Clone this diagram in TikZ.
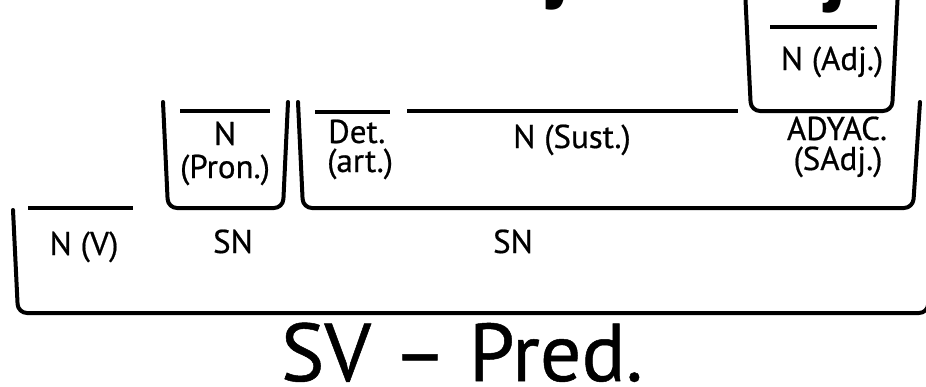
\documentclass[tikz,border=0pt]{standalone}
\usepackage{fontspec}
\setmainfont{PT Sans}
\newfontfamily\lblfont{PT Sans}[FakeBold=0.6]
\newfontfamily\glyphfont{PT Sans Bold}
\tikzset{
  brk/.style={line width=4pt, rounded corners=9pt, line cap=round, line join=round},
  ovl/.style={line width=4pt},
  lbl/.style={font=\lblfont\fontsize{33}{36}\selectfont, inner sep=0pt, anchor=base},
  big/.style={font=\lblfont\fontsize{82}{90}\selectfont, inner sep=0pt, anchor=base},
  cut/.style={font=\glyphfont\fontsize{85}{95}\selectfont, inner sep=0pt, anchor=base east},
}
\begin{document}
\begin{tikzpicture}[x=1pt,y=-1pt]
\useasboundingbox (0,0) rectangle (926,386);
\clip (0,0) rectangle (926,386);
% cut-off large glyphs at the top
\node[cut] (g1) at (570,-8) {j};
\node[cut] (g2) at (847,-5) {j};
% brackets
\draw[brk] (13,210) -- (18,313) -- (928,313) -- (931,200);
\draw[brk] (163,102) -- (168,208) -- (283,208) -- (288,102);
\draw[brk] (298,102) -- (303,208) -- (913,208) -- (920,102);
\draw[brk] (745,-10) -- (751,111) -- (892,111) -- (898,-10);
% overlines
\draw[ovl] (28,208) -- (133,208);
\draw[ovl] (180,111) -- (270,111);
\draw[ovl] (315,112) -- (390,112);
\draw[ovl] (407,111) -- (738,111);
\draw[ovl] (770,27) -- (877,27);
% labels
\node[lbl] (nv) at (84,255) {N (V)};
\node[lbl] (sn1) at (233,253) {SN};
\node[lbl] (sn2) at (513,253) {SN};
\node[lbl] (pn) at (225,145) {N};
\node[lbl] (pron) at (225,178) {(Pron.)};
\node[lbl, anchor=base west] (det) at (328,143) {Det.};
\node[lbl, anchor=base west] (art) at (327,172) {(art.)};
\node[lbl] (sust) at (572,148) {N (Sust.)};
\node[lbl] (ady) at (837,140) {ADYAC.};
\node[lbl] (sadj) at (838,170) {(SAdj.)};
\node[lbl] (nadj) at (832,70) {N (Adj.)};
\node[big] (svp) at (462,381) {SV – Pred.};
\end{tikzpicture}
\end{document}
